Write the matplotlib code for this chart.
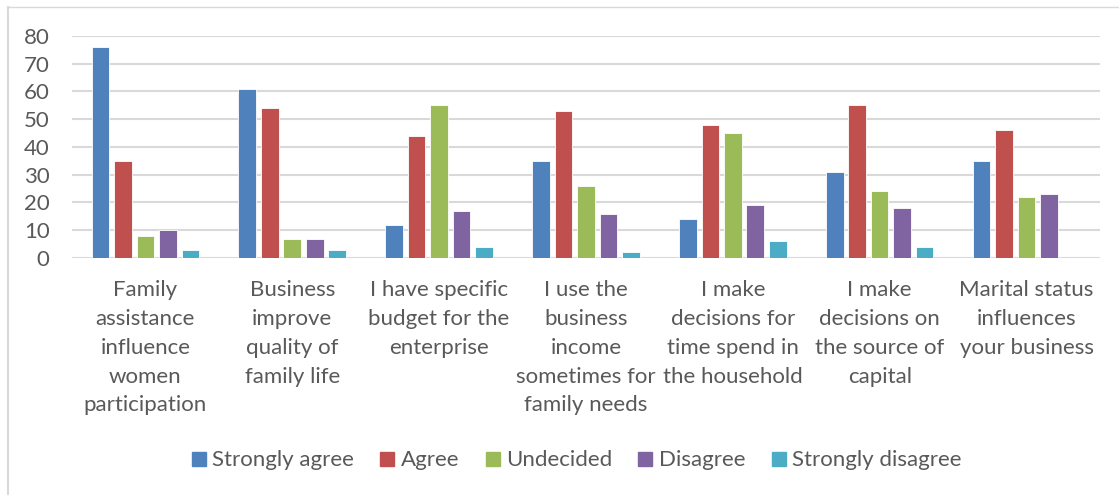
import matplotlib.pyplot as plt
import numpy as np
from matplotlib.lines import Line2D

plt.rcParams["font.family"] = ["Lato", "DejaVu Sans"]

categories = [
    "Family\nassistance\ninfluence\nwomen\nparticipation",
    "Business\nimprove\nquality of\nfamily life",
    "I have specific\nbudget for the\nenterprise",
    "I use the\nbusiness\nincome\nsometimes for\nfamily needs",
    "I make\ndecisions for\ntime spend in\nthe household",
    "I make\ndecisions on\nthe source of\ncapital",
    "Marital status\ninfluences\nyour business",
]
series_names = ["Strongly agree", "Agree", "Undecided", "Disagree", "Strongly disagree"]
strongly_agree = [76, 61, 12, 35, 14, 31, 35]
agree = [35, 54, 44, 53, 48, 55, 46]
undecided = [8, 7, 55, 26, 45, 24, 22]
disagree = [10, 7, 17, 16, 19, 18, 23]
strongly_disagree = [3, 3, 4, 2, 6, 4, 0]
colors = ["#4F81BD", "#C0504D", "#9BBB59", "#8064A2", "#4BACC6"]
y_ticks = [0, 10, 20, 30, 40, 50, 60, 70, 80]

text_color = "#595959"
all_series = [strongly_agree, agree, undecided, disagree, strongly_disagree]

fig = plt.figure(figsize=(11.19, 4.95), dpi=100)
ax = fig.add_axes([0.0643, 0.4788, 0.9187, 0.4485])

x = np.arange(len(categories))
step = 0.153
width = 0.12
for i, (vals, col) in enumerate(zip(all_series, colors)):
    offs = (i - 2) * step
    ax.bar(x + offs, vals, width=width, color=col, edgecolor="#ffffff",
           linewidth=0.6, zorder=3)

ax.set_xlim(-0.5, len(categories) - 0.5)
ax.set_ylim(0, 80)
ax.set_yticks(y_ticks)
ax.set_yticklabels([str(v) for v in y_ticks], fontsize=16, color=text_color)
ax.set_xticks(x)
ax.set_xticklabels(categories, fontsize=16, color=text_color, linespacing=1.55)
ax.tick_params(axis="both", length=0)
ax.tick_params(axis="y", pad=16)
ax.tick_params(axis="x", pad=16)
ax.grid(axis="y", color="#D9D9D9", linewidth=1.5, zorder=0)
for s in ax.spines.values():
    s.set_visible(False)

handles = [Line2D([0], [0], marker="s", linestyle="none", markersize=9.5,
                  markerfacecolor=c, markeredgecolor=c) for c in colors]
fig.legend(handles, series_names, loc="center", bbox_to_anchor=(0.515, 0.07),
           ncol=5, frameon=False, fontsize=16, handlelength=0.7,
           handletextpad=0.25, columnspacing=1.15, labelcolor=text_color)

# light chart-area border (top and left edges)
fig.add_artist(Line2D([0.0072, 1.0], [0.986, 0.986], color="#D9D9D9",
                      linewidth=1, transform=fig.transFigure))
fig.add_artist(Line2D([0.0072, 0.0072], [0.0, 0.986], color="#D9D9D9",
                      linewidth=1.5, transform=fig.transFigure))

fig.savefig("out.png", dpi=100, facecolor="white")
